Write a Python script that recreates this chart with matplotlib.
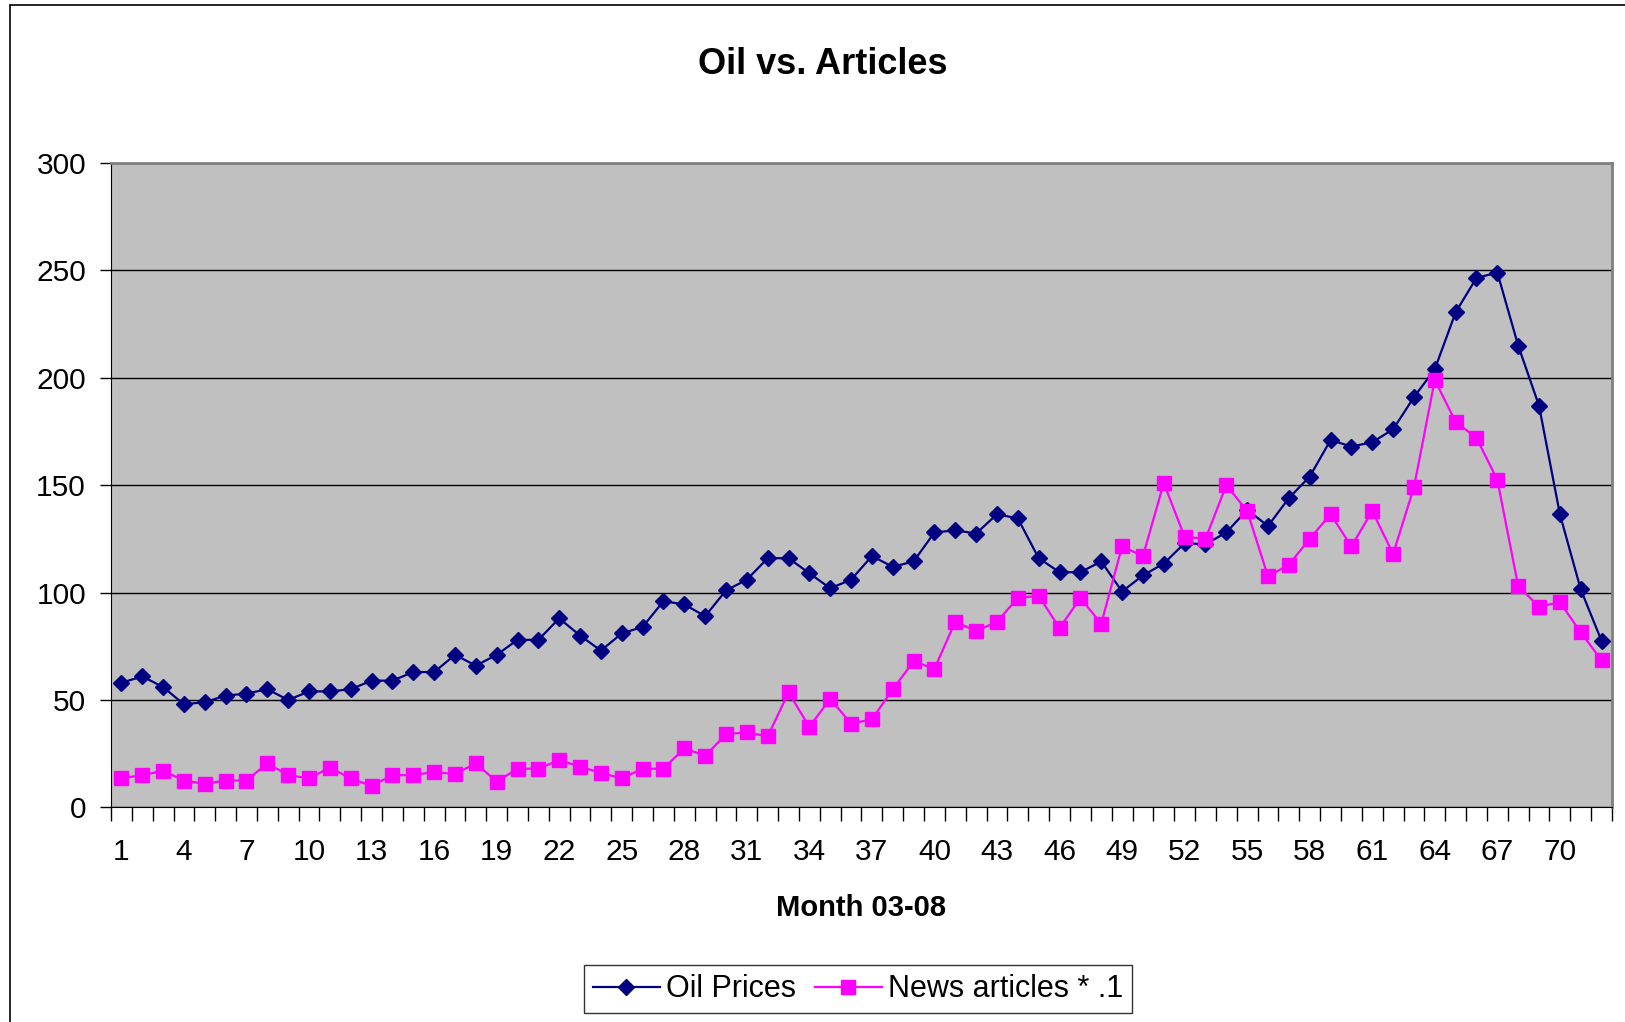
import matplotlib
matplotlib.use('Agg')
import matplotlib.pyplot as plt
from matplotlib.patches import Rectangle

plt.rcParams['font.family'] = ['Liberation Sans', 'DejaVu Sans']

months = list(range(1, 73))
oil = [58, 61, 56, 48, 49, 52, 53, 55, 50, 54, 54, 55,
       59, 59, 63, 63, 71, 66, 71, 78, 78, 88, 80, 73,
       81, 84, 96, 94.5, 89, 101, 106, 116, 116, 109, 102, 106,
       117, 112, 114.5, 128, 129, 127.5, 136.5, 134.5, 116, 109.5, 109.5, 114.5,
       100.5, 108, 113.5, 123, 122.5, 128, 138.5, 131, 144, 154, 171, 168,
       170, 176, 191, 204, 230.5, 246.5, 249, 215, 187, 136.5, 101.5, 77.5]
news = [13.5, 15, 17, 12.5, 11, 12.5, 12.5, 20.5, 15, 13.5, 18.5, 13.5,
        10, 15, 15, 16.5, 15.5, 20.5, 12, 18, 18, 22, 19, 16,
        13.5, 18, 18, 27.5, 24, 34, 35, 33, 53.5, 37.5, 50.5, 39,
        41, 55, 68, 64.5, 86.5, 82, 86.5, 97.5, 98.5, 83.5, 97.5, 85.5,
        121.5, 117, 151, 126, 125, 150, 138, 107.5, 113, 125, 136.5, 121.5,
        138, 118, 149, 199, 179.5, 172, 152.5, 103, 93.5, 95.5, 81.5, 68.5]
xticklabels = [str(m) for m in range(1, 73, 3)]

fig = plt.figure(figsize=(16.25, 10.22), dpi=100)
fig.patch.set_facecolor('white')
fig.patches.append(Rectangle((10 / 1625, -0.01), 1.02, 1 - 5 / 1022 + 0.01,
                             transform=fig.transFigure, fill=False,
                             edgecolor='black', linewidth=1.2))

ax = fig.add_axes([0.0683, 0.21, 0.9237, 0.6305])
ax.set_facecolor('#C0C0C0')

ax.plot(months, oil, color='#000080', linewidth=1.6, marker='D',
        markersize=8, label='Oil Prices', zorder=3)
ax.plot(months, news, color='#FF00FF', linewidth=1.6, marker='s',
        markersize=9.5, label='News articles * .1', zorder=3)

ax.set_xlim(0.5, 72.5)
ax.set_ylim(0, 300)
ax.set_yticks(range(0, 301, 50))
ax.yaxis.grid(True, color='black', linewidth=1)
ax.set_axisbelow(True)

ax.set_xticks(range(1, 73, 3))
ax.set_xticklabels(xticklabels)
ax.set_xticks([i + 0.5 for i in range(0, 73)], minor=True)
ax.tick_params(axis='x', which='major', length=0, pad=22, labelsize=21.5)
ax.tick_params(axis='x', which='minor', length=10, width=1, direction='out')
ax.tick_params(axis='y', length=8, width=1, pad=10, labelsize=21.5)

for side in ['top', 'right']:
    ax.spines[side].set_color('#808080')
    ax.spines[side].set_linewidth(2)
for side in ['left', 'bottom']:
    ax.spines[side].set_color('black')

ax.set_xlabel('Month 03-08', fontsize=21, fontweight='bold', labelpad=20)
fig.text(0.506, 0.937, 'Oil vs. Articles', fontsize=26, fontweight='bold',
         ha='center', va='center')

leg = fig.legend(loc='center', bbox_to_anchor=(0.528, 0.032), ncol=2,
                 fontsize=22, frameon=True, fancybox=False, handlelength=2.2,
                 handletextpad=0.2, columnspacing=0.6, borderpad=0.3)
leg.get_frame().set_edgecolor('black')
leg.get_frame().set_linewidth(1)

fig.savefig('out.png', dpi=100)
